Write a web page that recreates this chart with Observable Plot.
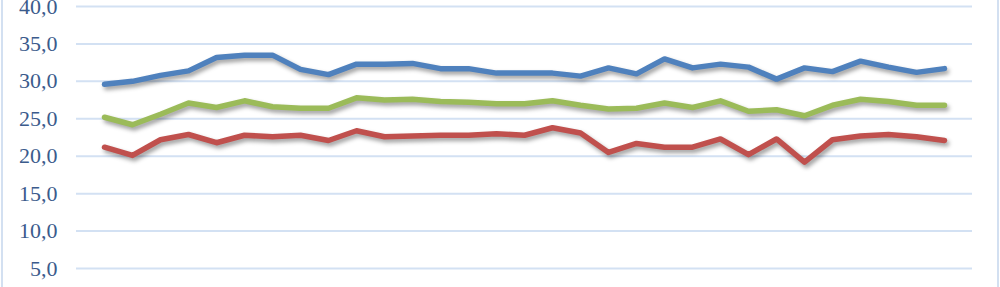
<!DOCTYPE html>
<html>
<head>
<meta charset="utf-8">
<script src="https://cdn.jsdelivr.net/npm/d3@7"></script>
<script src="https://cdn.jsdelivr.net/npm/@observablehq/plot@0.6"></script>
<style>
  html, body { margin: 0; padding: 0; background: #ffffff; overflow: hidden; }
  #wrap { position: relative; width: 1000px; height: 287px; overflow: hidden; background: #fff; }
  #border { position: absolute; top: -20px; bottom: -20px; left: 1px; right: 1px; border: 2px solid #d3e0f1; border-radius: 8px; pointer-events: none; }
  .sline { filter: drop-shadow(2px 3px 2px rgba(0,0,0,0.38)); }
</style>
</head>
<body>
<div id="wrap"><div id="border"></div></div>
<script>
const days = [1,2,3,4,5,6,7,8,9,10,11,12,13,14,15,16,17,18,19,20,21,22,23,24,25,26,27,28,29,30,31];
const seriesNames = ["Série 1", "Série 2", "Série 3"];
const seriesColors = ["#4f81bd", "#9bbb59", "#c0504d"];
const blueValues  = [29.6,30.0,30.8,31.4,33.2,33.5,33.5,31.6,30.9,32.3,32.3,32.4,31.7,31.7,31.1,31.1,31.1,30.7,31.8,31.0,33.0,31.8,32.3,31.9,30.3,31.8,31.3,32.7,31.9,31.2,31.7];
const greenValues = [25.2,24.2,25.6,27.1,26.5,27.4,26.6,26.4,26.4,27.8,27.5,27.6,27.3,27.2,27.0,27.0,27.4,26.8,26.3,26.4,27.1,26.5,27.4,26.0,26.2,25.4,26.8,27.6,27.3,26.8,26.8];
const redValues   = [21.2,20.1,22.2,22.9,21.8,22.8,22.6,22.8,22.1,23.4,22.6,22.7,22.8,22.8,23.0,22.8,23.8,23.1,20.5,21.7,21.2,21.2,22.3,20.2,22.3,19.2,22.2,22.7,22.9,22.6,22.1];
const yTicks = [5,10,15,20,25,30,35,40];

const allValues = [blueValues, greenValues, redValues];
const data = [];
allValues.forEach((vals, s) => vals.forEach((v, i) => data.push({day: days[i], value: v, series: seriesNames[s]})));

const chart = Plot.plot({
  width: 1000,
  height: 287,
  marginLeft: 76,
  marginRight: 28,
  marginTop: 6,
  marginBottom: 0,
  style: { fontFamily: "'Liberation Serif', serif", fontSize: "22px", color: "#3b5b8c", background: "transparent", overflow: "visible" },
  x: { type: "point", domain: days, padding: 0.5, axis: null },
  y: { domain: [0, 40], range: [305.4, 6.0] },
  color: { domain: seriesNames, range: seriesColors },
  marks: [
    Plot.gridY(yTicks, { stroke: "#d3e1f3", strokeOpacity: 1, strokeWidth: 2 }),
    Plot.axisY(yTicks, { tickSize: 0, tickPadding: 19, tickFormat: d => d.toFixed(1).replace(".", ","), label: null, fill: "#3b5b8c" }),
    Plot.line(data, { x: "day", y: "value", z: "series", stroke: "series", strokeWidth: 5.5, strokeLinejoin: "round", strokeLinecap: "round", className: "sline" })
  ]
});
document.getElementById("wrap").insertBefore(chart, document.getElementById("border"));
chart.style.position = "absolute";
chart.style.left = "0";
chart.style.top = "0";
</script>
</body>
</html>
